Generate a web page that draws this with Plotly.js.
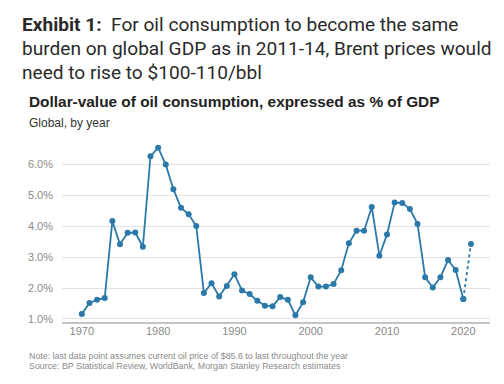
<!DOCTYPE html>
<html>
<head>
<meta charset="utf-8">
<script src="https://cdn.plot.ly/plotly-3.0.1.min.js"></script>
<style>html,body{margin:0;padding:0;background:#fff;}#chart{width:504px;height:384px;}</style>
</head>
<body>
<div id="chart"></div>
<script>
const years = [1970,1971,1972,1973,1974,1975,1976,1977,1978,1979,1980,1981,1982,1983,1984,1985,1986,1987,1988,1989,1990,1991,1992,1993,1994,1995,1996,1997,1998,1999,2000,2001,2002,2003,2004,2005,2006,2007,2008,2009,2010,2011,2012,2013,2014,2015,2016,2017,2018,2019,2020,2021];
const oilPctGdp = [1.16,1.52,1.62,1.68,4.17,3.42,3.79,3.80,3.34,6.27,6.55,6.00,5.20,4.60,4.39,4.01,1.84,2.16,1.73,2.07,2.45,1.92,1.81,1.59,1.43,1.41,1.71,1.62,1.12,1.54,2.35,2.05,2.05,2.13,2.58,3.45,3.86,3.86,4.63,3.05,3.74,4.77,4.76,4.56,4.08,2.35,2.02,2.35,2.91,2.59,1.65,3.43];
const yTicks = [1,2,3,4,5,6];
const xTicks = [1970,1980,1990,2000,2010,2020];

const L = 62, R = 490, T = 143, B = 323.3, W = 504, H = 384;
const px = x => (x - L) / (R - L);
const py = y => (B - y) / (B - T);
const lineColor = '#2b79a9';

const nSolid = years.length - 1;
const traces = [
  {x: years.slice(0, nSolid), y: oilPctGdp.slice(0, nSolid), type: 'scatter', mode: 'lines+markers',
   line: {color: lineColor, width: 1.8}, marker: {color: lineColor, size: 6}, hoverinfo: 'none'},
  {x: years.slice(nSolid - 1), y: oilPctGdp.slice(nSolid - 1), type: 'scatter', mode: 'lines+markers',
   line: {color: lineColor, width: 1.8, dash: 'dot'}, marker: {color: lineColor, size: 6}, hoverinfo: 'none'}
];

function ann(text, x, y, size, family, color, extra) {
  return Object.assign({text: text, xref: 'paper', yref: 'paper', x: px(x), y: py(y),
    xanchor: 'left', yanchor: 'middle', showarrow: false, align: 'left',
    font: {size: size, family: family, color: color}}, extra || {});
}
const titleFont = 'Roboto, "Noto Sans", sans-serif';
const arial = '"Liberation Sans", Arial, sans-serif';
const ts = 19.1;

const layout = {
  width: W, height: H,
  margin: {l: L, r: W - R, t: T, b: H - B},
  paper_bgcolor: '#fff', plot_bgcolor: '#fff',
  showlegend: false,
  xaxis: {range: [1967.4, 2023.5], tickvals: xTicks, ticktext: xTicks.map(String),
    showgrid: false, zeroline: false, showline: false, ticks: '',
    tickfont: {family: arial, size: 11, color: '#8a8a8a'}},
  yaxis: {range: [0.87, 6.7], tickvals: yTicks, ticktext: yTicks.map(v => v.toFixed(1) + '%'),
    showgrid: true, gridcolor: '#e3e3e3', gridwidth: 1, zeroline: false, showline: false, ticks: '',
    ticklabelstandoff: 8,
    tickfont: {family: arial, size: 11, color: '#8a8a8a'}},
  shapes: [{type: 'line', xref: 'paper', yref: 'paper', x0: 0, x1: 1, y0: 0, y1: 0,
    line: {color: '#c4c4c4', width: 2}}],
  annotations: [
    ann('<b>Exhibit 1:</b>&nbsp; For oil consumption to become the same', 20, 24, ts, titleFont, '#2a2a2a'),
    ann('burden on global GDP as in 2011-14, Brent prices would', 20, 48, ts, titleFont, '#2a2a2a'),
    ann('need to rise to $100-110/bbl', 20, 72, ts, titleFont, '#2a2a2a'),
    ann('<b>Dollar-value of oil consumption, expressed as % of GDP</b>', 27, 101.5, 15.4, arial, '#222'),
    ann('Global, by year', 27, 122.5, 12, arial, '#333'),
    ann('Note: last data point assumes current oil price of $85.6 to last throughout the year', 27, 356, 8.85, arial, '#8a8a8a'),
    ann('Source: BP Statistical Review, WorldBank, Morgan Stanley Research estimates', 27, 366, 8.85, arial, '#8a8a8a')
  ]
};

Plotly.newPlot('chart', traces, layout, {displayModeBar: false, staticPlot: true});
</script>
</body>
</html>
